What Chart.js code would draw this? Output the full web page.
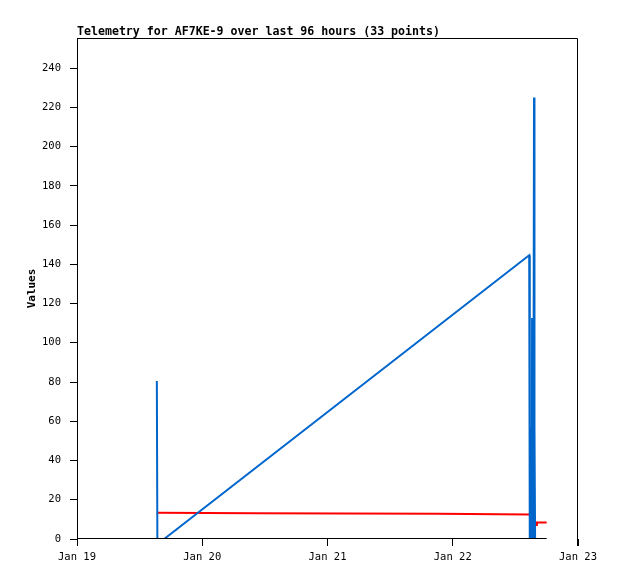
<!DOCTYPE html>
<html>
<head>
<meta charset="utf-8">
<script src="https://cdn.jsdelivr.net/npm/chart.js@4/dist/chart.umd.min.js"></script>
<style>
  html, body { margin: 0; padding: 0; background: #fff; }
  #wrap { width: 618px; height: 579px; }
</style>
</head>
<body>
<div id="wrap"><canvas id="chart"></canvas></div>
<script>
// hours since Jan 19 00:00
const dayLabels = ["Jan 19", "Jan 20", "Jan 21", "Jan 22", "Jan 23"];
const yTicks = [0, 20, 40, 60, 80, 100, 120, 140, 160, 180, 200, 220, 240];

const blueHours = [15.3, 15.4, 16.7, 86.65, 86.72, 86.8, 86.88, 86.96, 87.04, 87.12, 87.2, 87.28, 87.36, 87.44, 87.57, 87.62, 87.7, 87.78];
const blueValues = [80.5, 0, 0, 144.6, 56.5, 0, 56.5, 0, 56.5, 0, 112.6, 0, 56.5, 0, 225, 0, 56.5, 0];

const redHours = [15.33, 34.1, 69.2, 86.75, 87.7, 87.78, 88.1, 88.12, 88.16, 90];
const redValues = [13.4, 13.1, 12.9, 12.5, 0, 8.4, 8.4, 6.6, 8.4, 8.4];

const blackHours = [0, 90];
const blackValues = [0, 0];

const pts = (xs, ys) => xs.map((x, i) => ({ x: x, y: ys[i] }));

const titleText = "Telemetry for AF7KE-9 over last 96 hours (33 points)";

const framePlugin = {
  id: "frame",
  afterDraw(chart) {
    const ctx = chart.ctx;
    const a = chart.chartArea;
    ctx.save();
    ctx.strokeStyle = "#000";
    ctx.lineWidth = 1;
    ctx.beginPath();
    ctx.moveTo(a.left + 0.5, a.top + 0.5);
    ctx.lineTo(a.right - 0.5, a.top + 0.5);
    ctx.lineTo(a.right - 0.5, a.bottom + 7);
    ctx.stroke();
    ctx.fillStyle = "#000";
    ctx.font = "bold 11.6px 'DejaVu Sans Mono'";
    ctx.textBaseline = "alphabetic";
    ctx.textAlign = "left";
    ctx.fillText(titleText, a.left, 35);
    ctx.translate(32, (a.top + a.bottom) / 2);
    ctx.rotate(-Math.PI / 2);
    ctx.textAlign = "center";
    ctx.textBaseline = "middle";
    ctx.font = "bold 11px 'DejaVu Sans Mono'";
    ctx.fillText("Values", 0, 0);
    ctx.restore();
  }
};

new Chart(document.getElementById("chart"), {
  type: "line",
  data: {
    datasets: [
      {
        label: "zero",
        data: pts(blackHours, blackValues),
        borderColor: "#000000",
        borderWidth: 2,
        pointRadius: 0,
        order: 0
      },
      {
        label: "blue",
        data: pts(blueHours, blueValues),
        borderColor: "#0066cc",
        borderWidth: 2,
        pointRadius: 0,
        order: 1
      },
      {
        label: "red",
        data: pts(redHours, redValues),
        borderColor: "#ff0000",
        borderWidth: 2,
        pointRadius: 0,
        order: 2
      }
    ]
  },
  options: {
    responsive: true,
    maintainAspectRatio: false,
    animation: false,
    layout: { padding: { top: 38, right: 40, left: 0, bottom: 0 } },
    plugins: {
      legend: { display: false },
      tooltip: { enabled: false },
      title: { display: false }
    },
    scales: {
      x: {
        type: "linear",
        min: 0,
        max: 96,
        afterFit: (s) => { s.height = 40; },
        afterBuildTicks: (s) => { s.ticks = dayLabels.map((_, i) => ({ value: i * 24 })); },
        ticks: {
          color: "#000",
          font: { family: "'DejaVu Sans Mono'", size: 10.5 },
          padding: 5,
          maxRotation: 0,
          callback: (v) => dayLabels[v / 24]
        },
        grid: { drawOnChartArea: false, tickLength: 7, tickColor: "#000", tickWidth: 1 },
        border: { display: false }
      },
      y: {
        type: "linear",
        min: 0,
        max: 255.3,
        afterFit: (s) => { s.width = 77; },
        afterBuildTicks: (s) => { s.ticks = yTicks.map((v) => ({ value: v })); },
        ticks: {
          color: "#000",
          font: { family: "'DejaVu Sans Mono'", size: 10.5 },
          padding: 9
        },
        grid: { drawOnChartArea: false, tickLength: 7, tickColor: "#000", tickWidth: 1 },
        border: { display: true, color: "#000", width: 1 }
      }
    }
  },
  plugins: [framePlugin]
});
</script>
</body>
</html>
